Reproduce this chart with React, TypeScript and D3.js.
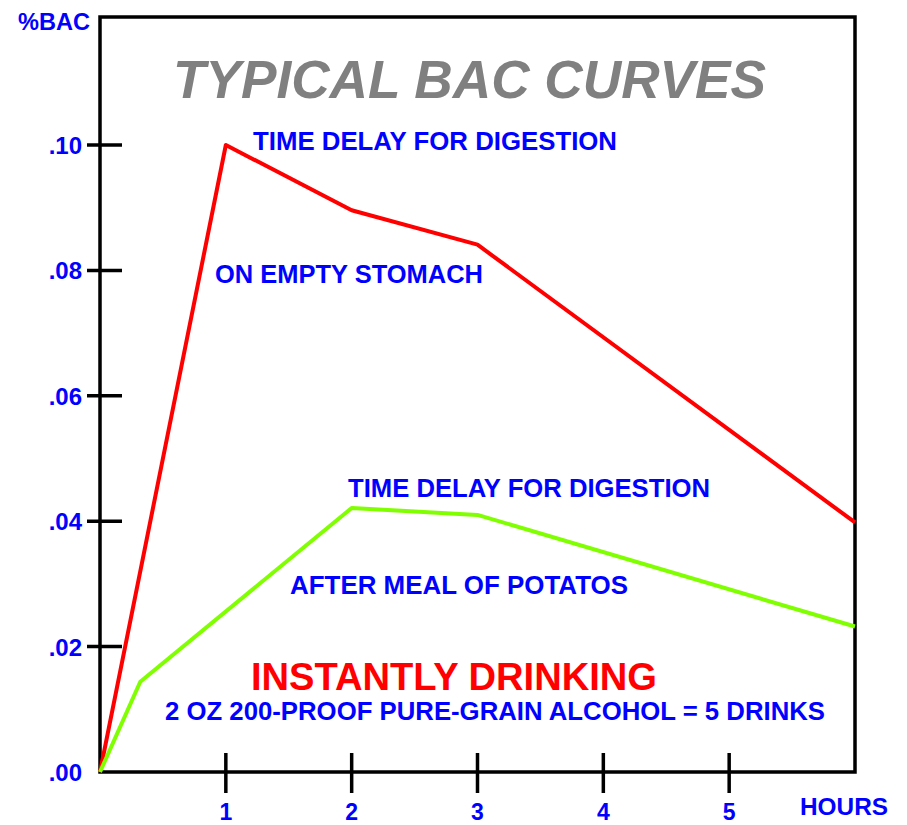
import React from "react";
import * as d3 from "d3";

const hourTicks = [1, 2, 3, 4, 5];
const bacTicks = [0, 0.02, 0.04, 0.06, 0.08, 0.1];
const bacTickLabels = [".00", ".02", ".04", ".06", ".08", ".10"];

const emptyHours = [0, 1, 2, 3, 6];
const emptyBac = [0, 0.1, 0.0896, 0.0841, 0.0398];

const mealHours = [0, 0.32, 2, 3, 6];
const mealBac = [0, 0.0144, 0.0421, 0.041, 0.0232];

const W = 907;
const H = 825;
const FONT = "'Liberation Sans', Arial, Helvetica, sans-serif";
const BLUE = "#0000ff";

export default function App() {
  const x = d3.scaleLinear().domain([0, 6]).range([100, 855]);
  const y = d3.scaleLinear().domain([0, 0.1]).range([772, 145]);
  const line = d3
    .line<[number, number]>()
    .x((d) => x(d[0]))
    .y((d) => y(d[1]));
  const emptyPts = emptyHours.map((h, i) => [h, emptyBac[i]] as [number, number]);
  const mealPts = mealHours.map((h, i) => [h, mealBac[i]] as [number, number]);

  return (
    <svg
      width={W}
      height={H}
      style={{ position: "absolute", left: 0, top: 0, background: "#fff" }}
      fontFamily={FONT}
      fontWeight="bold"
    >
      <rect x={0} y={0} width={W} height={H} fill="#fff" />
      {/* frame */}
      <path
        d={`M${x(0)},${y(0)} L${x(0)},17 L${x(6)},17 L${x(6)},${y(0)} Z`}
        fill="none"
        stroke="#000"
        strokeWidth={3.5}
      />
      {/* y ticks */}
      {bacTicks.map((t, i) => (
        <g key={"y" + i}>
          {i > 0 && (
            <line x1={87} x2={122} y1={y(t)} y2={y(t)} stroke="#000" strokeWidth={3.5} />
          )}
          <text
            x={82}
            y={y(t) + 9}
            textAnchor="end"
            fontSize={24}
            fill={BLUE}
          >
            {bacTickLabels[i]}
          </text>
        </g>
      ))}
      {/* x ticks */}
      {hourTicks.map((h) => (
        <g key={"x" + h}>
          <line x1={x(h)} x2={x(h)} y1={753} y2={793} stroke="#000" strokeWidth={3.5} />
          <text x={x(h)} y={820} textAnchor="middle" fontSize={23} fill={BLUE}>
            {h}
          </text>
        </g>
      ))}
      <text x={18} y={30} fontSize={23} fill={BLUE} textLength={72} lengthAdjust="spacingAndGlyphs">
        %BAC
      </text>
      <text x={800} y={815} fontSize={23} fill={BLUE} textLength={88} lengthAdjust="spacingAndGlyphs">
        HOURS
      </text>
      {/* title */}
      <text
        x={173}
        y={98}
        fontSize={54}
        fontStyle="italic"
        fill="#808080"
        textLength={593}
        lengthAdjust="spacingAndGlyphs"
      >
        TYPICAL BAC CURVES
      </text>
      {/* lines */}
      <path d={line(emptyPts) || ""} fill="none" stroke="#ff0000" strokeWidth={4} strokeLinejoin="round" />
      <path d={line(mealPts) || ""} fill="none" stroke="#80ff00" strokeWidth={4} strokeLinejoin="round" />
      {/* annotations */}
      <text x={253} y={150} fontSize={25} fill={BLUE} textLength={364} lengthAdjust="spacingAndGlyphs">
        TIME DELAY FOR DIGESTION
      </text>
      <text x={215} y={283} fontSize={25} fill={BLUE} textLength={268} lengthAdjust="spacingAndGlyphs">
        ON EMPTY STOMACH
      </text>
      <text x={348} y={497} fontSize={25} fill={BLUE} textLength={362} lengthAdjust="spacingAndGlyphs">
        TIME DELAY FOR DIGESTION
      </text>
      <text x={290} y={594} fontSize={25} fill={BLUE} textLength={338} lengthAdjust="spacingAndGlyphs">
        AFTER MEAL OF POTATOS
      </text>
      <text x={251} y={690} fontSize={38} fill="#ff0000" textLength={406} lengthAdjust="spacingAndGlyphs">
        INSTANTLY DRINKING
      </text>
      <text x={165} y={720} fontSize={25} fill={BLUE} textLength={660} lengthAdjust="spacingAndGlyphs">
        2 OZ 200-PROOF PURE-GRAIN ALCOHOL = 5 DRINKS
      </text>
    </svg>
  );
}
